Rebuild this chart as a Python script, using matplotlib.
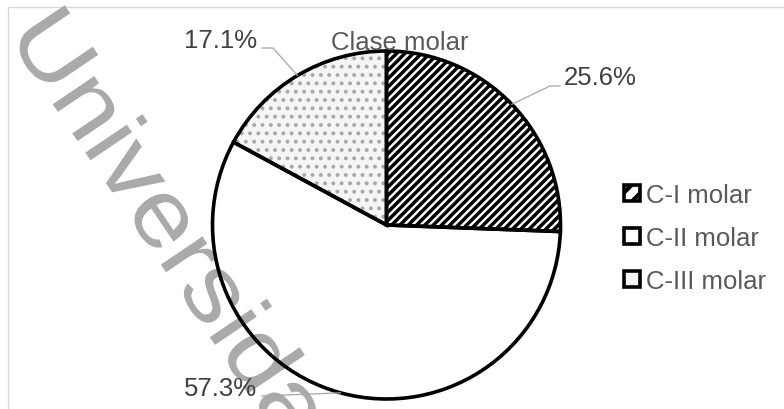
import numpy as np
import matplotlib
matplotlib.use('Agg')
import matplotlib.pyplot as plt
from matplotlib.patches import Patch, PathPatch
from matplotlib.textpath import TextPath
from matplotlib.font_manager import FontProperties
from matplotlib.transforms import Affine2D

plt.rcParams['font.family'] = ['Liberation Sans', 'DejaVu Sans']
plt.rcParams['hatch.linewidth'] = 3.0

W, H = 784, 410

# ── data ──────────────────────────────────────────────────────────────────────
categories = ['C-I molar', 'C-II molar', 'C-III molar']
shares     = [25.6, 57.3, 17.1]
title      = 'Clase molar'
watermark  = 'Universidad'

# ── styles ────────────────────────────────────────────────────────────────────
face_colors  = ['white', 'none', '#f5f5f5']
hatch_colors = ['black', 'black', '#a8a8a8']
hatches      = ['////', '', '..']
hatch_widths = [2.5, 1.0, 1.6]
legend_hatch = ['//', '', '']
TXT_DARK  = '#404040'
TXT_MID   = '#595959'
LEADER    = '#a6a6a6'
FS        = 18.5

def py(y):
    # pixel rows counted from the top edge
    return H - y

fig = plt.figure(figsize=(W / 100, H / 100), dpi=100)
ax = fig.add_axes([0, 0, 1, 1])

# chart area frame (left and top edges visible)
ax.plot([7.5, 7.5, W], [0, py(7.5), py(7.5)], color='#d9d9d9', lw=1.0, zorder=0)

# diagonal watermark
tp = TextPath((0, 0), watermark, size=95, prop=FontProperties(family='Liberation Sans'))
tr = Affine2D().scale(1.11, 1.0).rotate_deg(-56).translate(6, py(36))
ax.add_patch(PathPatch(tr.transform_path(tp), facecolor='#aaaaaa',
                       edgecolor='none', zorder=1))

# ── pie ───────────────────────────────────────────────────────────────────────
center = (386.5, py(226))
radius = 174
wedges, _ = ax.pie(shares, startangle=90, counterclock=False, center=center,
                   radius=radius, frame=True, wedgeprops=dict(linewidth=0))
for w, fc, hc, h, hw in zip(wedges, face_colors, hatch_colors, hatches, hatch_widths):
    w.set_facecolor(fc)
    w.set_edgecolor(hc)
    w.set_hatch(h)
    if hasattr(w, 'set_hatch_linewidth'):
        w.set_hatch_linewidth(hw)
    else:
        w._hatch_linewidth = hw
    w.set_zorder(2)

outline, _ = ax.pie(shares, startangle=90, counterclock=False, center=center,
                    radius=radius, frame=True,
                    wedgeprops=dict(facecolor='none', edgecolor='black', linewidth=2.6))
for w in outline:
    w.set_zorder(3)

# data labels with leader lines
label_layout = [
    dict(elbow=(550, 87), end=(560, 87), text=(564, 78), ha='left'),
    dict(elbow=None,      end=(262, 397), text=(257, 389), ha='right'),
    dict(elbow=(273, 49), end=(262, 49), text=(257, 41), ha='right'),
]
for w, v, lay in zip(wedges, shares, label_layout):
    mid = np.deg2rad((w.theta1 + w.theta2) / 2)
    x0 = center[0] + radius * np.cos(mid)
    y0 = center[1] + radius * np.sin(mid)
    pts = [(x0, y0)]
    if lay['elbow'] is not None:
        pts.append((lay['elbow'][0], py(lay['elbow'][1])))
    pts.append((lay['end'][0], py(lay['end'][1])))
    xs, ys = zip(*pts)
    ax.plot(xs, ys, color=LEADER, lw=0.9, zorder=4)
    ax.text(lay['text'][0], py(lay['text'][1]), f'{v:.1f}%', ha=lay['ha'],
            va='center', fontsize=FS, color=TXT_DARK, zorder=5)

ax.text(400, py(43), title, ha='center', va='center', fontsize=FS,
        color=TXT_MID, zorder=5)

# legend
handles = [Patch(facecolor=fc if fc != 'none' else 'white', edgecolor='black',
                 hatch=h, linewidth=2.6, label=c)
           for c, fc, h in zip(categories, face_colors, legend_hatch)]
leg = ax.legend(handles=handles, loc='upper left',
                bbox_to_anchor=(624 / W, py(184) / H), frameon=False,
                fontsize=FS, handlelength=0.62, handleheight=0.62,
                handletextpad=0.25, labelspacing=0.74, borderpad=0,
                borderaxespad=0)
for t in leg.get_texts():
    t.set_color(TXT_MID)

ax.set_xlim(0, W)
ax.set_ylim(0, H)
ax.set_aspect('equal')
ax.axis('off')

fig.savefig('out.png', dpi=100, facecolor='white')
